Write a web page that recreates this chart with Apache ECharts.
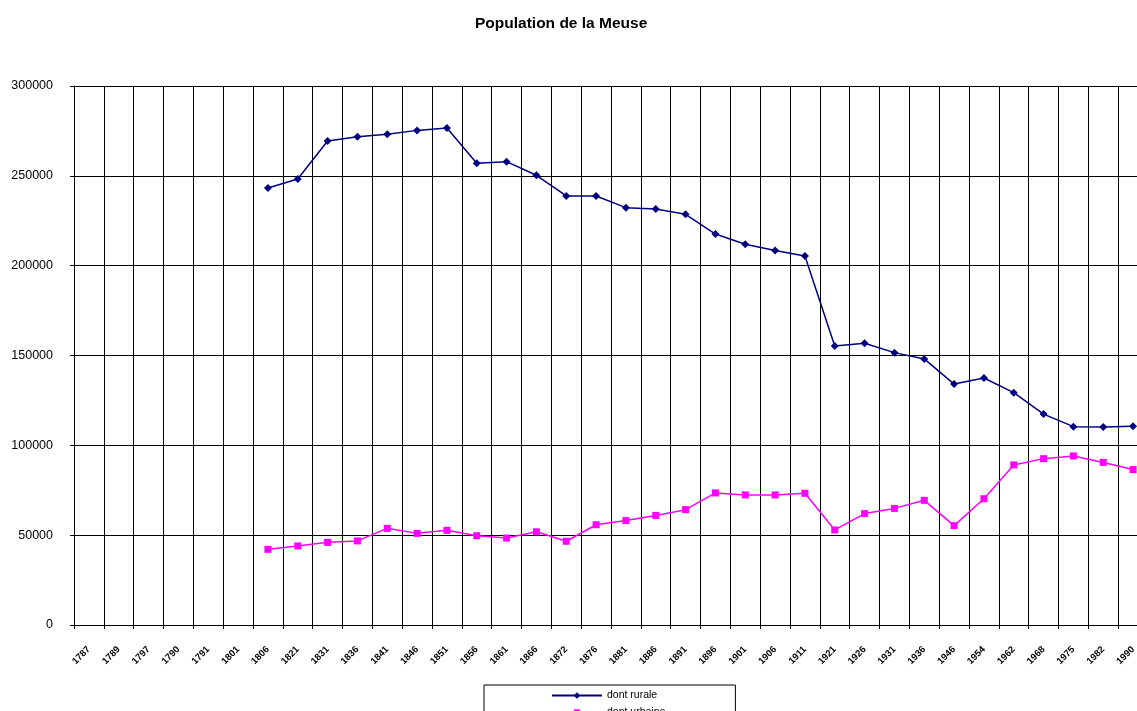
<!DOCTYPE html>
<html>
<head>
<meta charset="utf-8">
<script src="https://cdn.jsdelivr.net/npm/echarts@6/dist/echarts.min.js"></script>
<style>
  html, body { margin: 0; padding: 0; background: #fff; overflow: hidden; }
  /* le graphique d'origine est coupé à droite : zone un peu plus large que la fenêtre */
  #main { width: 1148px; height: 711px; }
</style>
</head>
<body>
<div id="main"></div>
<script>
var years = ["1787", "1789", "1797", "1790", "1791", "1801", "1806", "1821", "1831", "1836",
  "1841", "1846", "1851", "1856", "1861", "1866", "1872", "1876", "1881", "1886",
  "1891", "1896", "1901", "1906", "1911", "1921", "1926", "1931", "1936", "1946",
  "1954", "1962", "1968", "1975", "1982", "1990"];

// population rurale
var rurale = [null, null, null, null, null, null,
  243200, 248200, 269400, 271800, 273100, 275300, 276600, 257000, 257900, 250300,
  238800, 238800, 232300, 231500, 228600, 217600, 211900, 208500, 205400, 155300,
  156800, 151600, 148100, 134100, 137500, 129300, 117400, 110400, 110200, 110600];

// population urbaine
var urbaine = [null, null, null, null, null, null,
  42100, 44000, 46000, 46800, 53800, 51000, 52700, 49700, 48400, 51900,
  46600, 55800, 58100, 61000, 64200, 73500, 72400, 72400, 73300, 52900,
  62000, 64900, 69400, 55300, 70300, 89100, 92600, 94100, 90500, 86500];

var chartDom = document.getElementById("main");
var myChart = echarts.init(chartDom);
var option;

var font = "'Liberation Sans', Arial, sans-serif";

option = {
  animation: false,
  backgroundColor: "#fff",
  textStyle: { fontFamily: font },
  title: {
    text: "Population de la Meuse",
    left: 475,
    top: 16,
    padding: 0,
    textStyle: { fontSize: 15.5, fontWeight: "bold", color: "#000", fontFamily: font },
  },
  legend: {
    orient: "vertical",
    left: 484,
    top: 685,
    height: 40,
    padding: [5, 70, 5, 67],
    itemWidth: 50,
    itemHeight: 8,
    itemGap: 6,
    borderColor: "#000",
    borderWidth: 1,
    textStyle: { fontSize: 10.5, color: "#000", fontFamily: font },
    data: ["dont rurale", "dont urbaine"],
  },
  grid: {
    left: 74,
    top: 86,
    right: 0,
    height: 539,
  },
  xAxis: {
    type: "category",
    data: years,
    boundaryGap: true,
    axisLine: { lineStyle: { color: "#000", width: 1 } },
    axisTick: { show: true, length: 4, lineStyle: { color: "#000" } },
    axisLabel: {
      interval: 0,
      rotate: 45,
      margin: 23,
      fontSize: 9.5,
      fontWeight: "bold",
      color: "#000",
      fontFamily: font,
    },
    splitLine: { show: true, interval: 0, lineStyle: { color: "#000", width: 1 } },
  },
  yAxis: {
    type: "value",
    min: 0,
    max: 300000,
    interval: 50000,
    axisLine: { show: true, lineStyle: { color: "#000", width: 1 } },
    axisTick: { show: true, length: 4, lineStyle: { color: "#000" } },
    axisLabel: {
      margin: 21,
      fontSize: 12.5,
      color: "#000",
      fontFamily: font,
      formatter: function (v) { return String(v); },
    },
    splitLine: { show: true, lineStyle: { color: "#000", width: 1 } },
  },
  series: [
    {
      name: "dont rurale",
      type: "line",
      data: rurale,
      symbol: "diamond",
      symbolSize: 8,
      color: "#000080",
      lineStyle: { width: 1.5, color: "#000080" },
      itemStyle: { color: "#000080" },
    },
    {
      name: "dont urbaine",
      type: "line",
      data: urbaine,
      symbol: "rect",
      symbolSize: 7,
      color: "#FF00FF",
      lineStyle: { width: 1.5, color: "#FF00FF" },
      itemStyle: { color: "#FF00FF" },
    },
  ],
};

option && myChart.setOption(option);
</script>
</body>
</html>
